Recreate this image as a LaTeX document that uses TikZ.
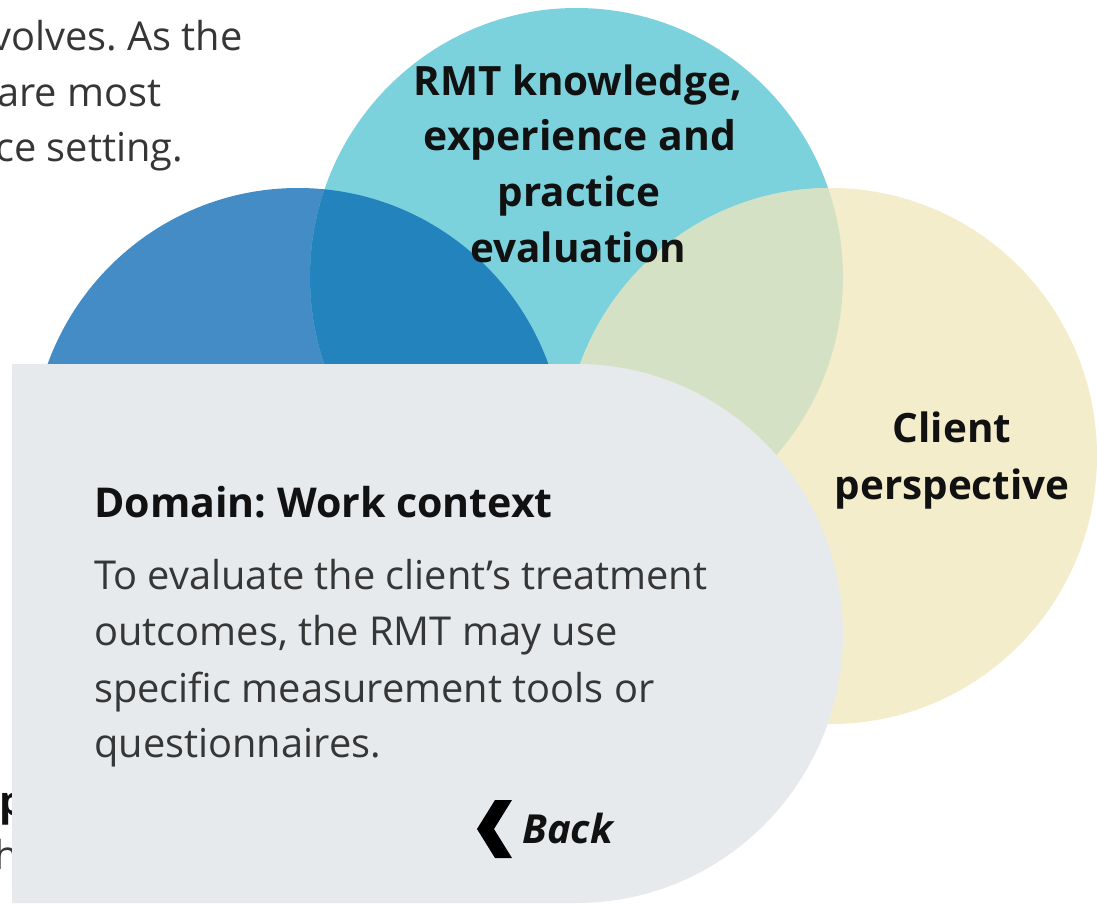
\documentclass[tikz,border=0pt]{standalone}
\usepackage{fontspec}
\setmainfont{Open Sans}
\frenchspacing
\definecolor{tealc}{HTML}{7BD2DC}
\definecolor{bluec}{HTML}{448CC5}
\definecolor{overlapc}{HTML}{2283BD}
\definecolor{creamc}{HTML}{F4EDCC}
\definecolor{greenc}{HTML}{D5E1C4}
\definecolor{panelc}{HTML}{E7EAED}
\definecolor{bodyc}{HTML}{363636}
\definecolor{headc}{HTML}{111111}
\tikzset{
  px/.style={x=1pt,y=-1pt},
  bodytext/.style={anchor=base west,inner sep=0pt,font=\fontsize{39.8}{40}\selectfont,text=bodyc},
  headtext/.style={anchor=base,inner sep=0pt,font=\fontsize{40.4}{40}\selectfont\bfseries,text=headc},
  widehead/.style={headtext,font=\fontsize{40.9}{40}\selectfont\bfseries},
}
\begin{document}
\begin{tikzpicture}[px]
\useasboundingbox (0,0) rectangle (1097,903);
\fill[white] (0,0) rectangle (1097,903);
% circles
\fill[bluec] (298,456) ellipse [x radius=266.5pt,y radius=268pt];
\fill[tealc] (576.5,277) ellipse [x radius=266.5pt,y radius=269pt];
\begin{scope}
\clip (298,456) ellipse [x radius=266.5pt,y radius=268pt];
\fill[overlapc] (576.5,277) ellipse [x radius=266.5pt,y radius=269pt];
\end{scope}
\fill[creamc] (830.5,456) ellipse [x radius=266.5pt,y radius=268pt];
\begin{scope}
\clip (830.5,456) ellipse [x radius=266.5pt,y radius=268pt];
\fill[greenc] (576.5,277) ellipse [x radius=266.5pt,y radius=269pt];
\end{scope}
% background text
\node[bodytext] (a1) at (-9,50) {volves. As the};
\node[bodytext] (a2) at (-3,106) {are most};
\node[bodytext] (a3) at (-5,161) {ce setting.};
\node[headtext,anchor=base west] (p1) at (-1,815) {p};
\node[bodytext] (h1) at (-6,869) {h};
% panel
\fill[panelc] (12,364) -- (576.5,364) arc[start angle=-90,end angle=90,x radius=266.5,y radius=269.5] -- (12,903) -- cycle;
% labels
\node[headtext] (k1) at (578,95) {RMT knowledge,};
\node[widehead] (k2) at (580,150) {experience and};
\node[headtext] (k3) at (579,206) {practice};
\node[headtext] (k4) at (578,262) {evaluation};
\node[headtext] (c1) at (952,442) {Client};
\node[headtext] (c2) at (952,499) {perspective};
\node[headtext,anchor=base west,font=\fontsize{41.1}{40}\selectfont\bfseries] (d) at (94,517) {Domain: Work context};
\node[bodytext] (t1) at (94,589) {To evaluate the client’s treatment};
\node[bodytext] (t2) at (94,645) {outcomes, the RMT may use};
\node[bodytext] (t3) at (94,702) {specific measurement tools or};
\node[bodytext] (t4) at (94,757) {questionnaires.};
\fill[black] (512,800) -- (495,800) -- (477,829) -- (495,858) -- (512,858) -- (494,829) -- cycle;
\node[headtext,anchor=base west,font=\fontsize{40}{40}\selectfont\bfseries\itshape] (b) at (522,843) {Back};
\end{tikzpicture}
\end{document}
